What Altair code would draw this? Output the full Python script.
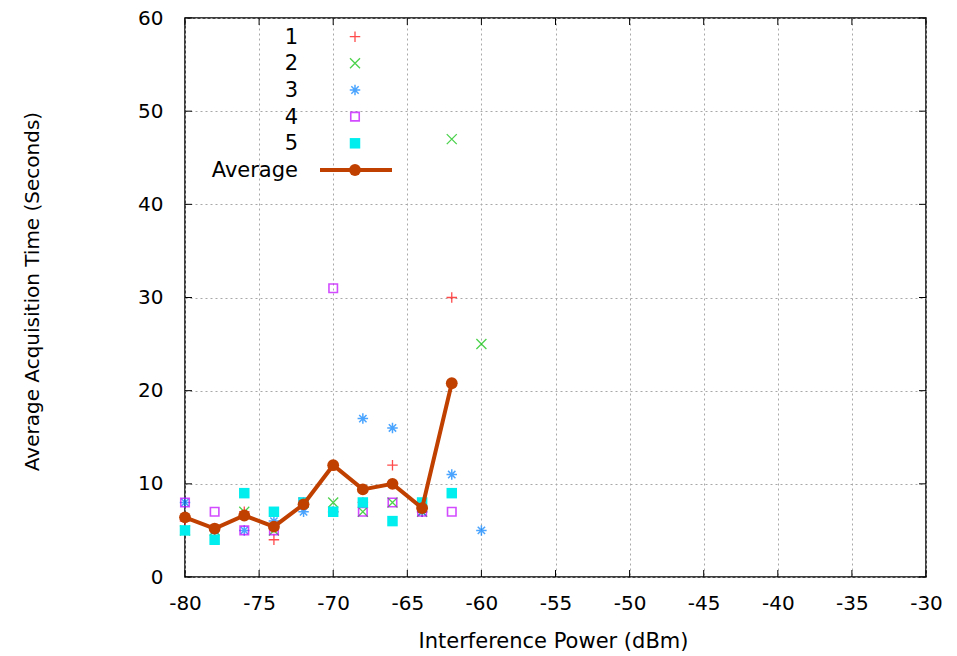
import altair as alt
import pandas as pd

# ---- data ----
power = [-80, -78, -76, -74, -72, -70, -68, -66, -64, -62]
run1 = [6, 5, 7, 4, 8, 7, 8, 12, 7, 30]
run2 = [5, 5, 7, 5, 8, 8, 7, 8, 7, 47]
run3 = [8, 5, 5, 6, 7, 7, 17, 16, 7, 11]
run4 = [8, 7, 5, 5, 8, 31, 7, 8, 7, 7]
run5 = [5, 4, 9, 7, 8, 7, 8, 6, 8, 9]
extra_power = [-60]
extra_run2 = [25]
extra_run3 = [5]
average = [6.4, 5.2, 6.6, 5.4, 7.8, 12.0, 9.4, 10.0, 7.4, 20.8]

x_ticks = [-80, -75, -70, -65, -60, -55, -50, -45, -40, -35, -30]
y_ticks = [0, 10, 20, 30, 40, 50, 60]
legend_labels = ["1", "2", "3", "4", "5", "Average"]

W, H = 741, 559
FONT = "DejaVu Sans"

colors = ["#ff0000", "#00c000", "#0080ff", "#c000ff", "#00eeee", "#c04000"]

PLUS = "M-1,0L1,0M0,-1L0,1"
CROSS = "M-1,-1L1,1M-1,1L1,-1"
STAR = "M-1,0L1,0M0,-1L0,1M-0.7,-0.7L0.7,0.7M-0.7,0.7L0.7,-0.7"

df1 = pd.DataFrame({"x": power, "y": run1})
df2 = pd.DataFrame({"x": power + extra_power, "y": run2 + extra_run2})
df3 = pd.DataFrame({"x": power + extra_power, "y": run3 + extra_run3})
df4 = pd.DataFrame({"x": power, "y": run4})
df5 = pd.DataFrame({"x": power, "y": run5})
dfa = pd.DataFrame({"x": power, "y": average})

xs = alt.Scale(domain=[-80, -30], nice=False, zero=False)
ys = alt.Scale(domain=[0, 60], nice=False)

X = alt.X("x:Q", scale=xs, axis=alt.Axis(
    values=x_ticks, title="Interference Power (dBm)", grid=True,
    gridDash=[2, 3], gridColor="#a8a8a8", gridWidth=1, ticks=False,
    domain=False, labelFont=FONT, labelFontSize=20, labelColor="#000",
    labelExpr="toString(datum.value)", labelFlush=False, labelOverlap=False,
    labelPadding=16, titleFont=FONT, titleFontSize=21, titleFontWeight="normal",
    titleColor="#000", titleY=70, titleX=368, titleBaseline="alphabetic"))
Y = alt.Y("y:Q", scale=ys, axis=alt.Axis(
    values=y_ticks, title="Average Acquisition Time (Seconds)", grid=True,
    gridDash=[2, 3], gridColor="#a8a8a8", gridWidth=1, ticks=False,
    domain=False, labelFont=FONT, labelFontSize=20, labelColor="#000",
    labelExpr="toString(datum.value)", labelFlush=False, labelOverlap=False,
    labelPadding=22, titleFont=FONT, titleFontSize=20, titleFontWeight="normal",
    titleColor="#000", titleX=-147, titleY=273, titleBaseline="alphabetic"))

l1 = alt.Chart(df1).mark_point(shape=PLUS, size=110, color=colors[0], strokeWidth=1.3, filled=False).encode(x=X, y=Y)
l2 = alt.Chart(df2).mark_point(shape=CROSS, size=100, color=colors[1], strokeWidth=1.3, filled=False).encode(x=X, y=Y)
l3 = alt.Chart(df3).mark_point(shape=STAR, size=110, color=colors[2], strokeWidth=1.5, filled=False).encode(x=X, y=Y)
l4 = alt.Chart(df4).mark_point(shape="square", size=72, color=colors[3], strokeWidth=1.6, filled=False).encode(x=X, y=Y)
l5 = alt.Chart(df5).mark_point(shape="square", size=110, color=colors[4], filled=True, opacity=1, strokeWidth=0).encode(x=X, y=Y)
la = alt.Chart(dfa).mark_line(color=colors[5], strokeWidth=4).encode(x=X, y=Y)
lap = alt.Chart(dfa).mark_point(shape="circle", size=140, color=colors[5], filled=True, opacity=1).encode(x=X, y=Y)

# inward tick marks on all four borders
tx = pd.DataFrame({"x": x_ticks})
ty = pd.DataFrame({"y": y_ticks})
tick_b = alt.Chart(tx).mark_rule(color="#000", strokeWidth=1).encode(x=X, y=alt.value(H), y2=alt.value(H - 7))
tick_t = alt.Chart(tx).mark_rule(color="#000", strokeWidth=1).encode(x=X, y=alt.value(0), y2=alt.value(7))
tick_l = alt.Chart(ty).mark_rule(color="#000", strokeWidth=1).encode(y=Y, x=alt.value(0), x2=alt.value(7))
tick_r = alt.Chart(ty).mark_rule(color="#000", strokeWidth=1).encode(y=Y, x=alt.value(W), x2=alt.value(W - 7))

# legend (inside plot, labels right-aligned left of symbols)
leg_layers = []
row_y = [18.7, 45.3, 72.0, 98.6, 125.3, 152.0]
sym_x = 170
lab_x = 113
ldf = pd.DataFrame({"label": legend_labels})
for i, lab in enumerate(legend_labels):
    d = ldf.iloc[[i]]
    leg_layers.append(alt.Chart(d).mark_text(align="right", baseline="middle", font=FONT,
                                             fontSize=21, color="#000").encode(
        text="label:N", x=alt.value(lab_x), y=alt.value(row_y[i] + 1)))
    if i == 0:
        m = alt.Chart(d).mark_point(shape=PLUS, size=110, color=colors[0], strokeWidth=1.3, filled=False)
    elif i == 1:
        m = alt.Chart(d).mark_point(shape=CROSS, size=100, color=colors[1], strokeWidth=1.3, filled=False)
    elif i == 2:
        m = alt.Chart(d).mark_point(shape=STAR, size=110, color=colors[2], strokeWidth=1.5, filled=False)
    elif i == 3:
        m = alt.Chart(d).mark_point(shape="square", size=72, color=colors[3], strokeWidth=1.6, filled=False)
    elif i == 4:
        m = alt.Chart(d).mark_point(shape="square", size=110, color=colors[4], filled=True, opacity=1, strokeWidth=0)
    else:
        leg_layers.append(alt.Chart(d).mark_rule(color=colors[5], strokeWidth=4).encode(
            x=alt.value(135), x2=alt.value(207), y=alt.value(row_y[i])))
        m = alt.Chart(d).mark_point(shape="circle", size=140, color=colors[5], filled=True, opacity=1)
    leg_layers.append(m.encode(x=alt.value(sym_x), y=alt.value(row_y[i])))

chart = alt.layer(
    l1, tick_b, tick_t, tick_l, tick_r, l2, l3, l4, l5, la, lap, *leg_layers
).properties(
    width=W, height=H,
    autosize=alt.AutoSizeParams(type="none"),
    padding={"left": 185, "top": 18, "right": 31, "bottom": 79},
    background="white",
).configure_view(stroke="#000", strokeWidth=1.5)

chart.save("out.html", embed_options={"renderer": "svg", "actions": False})
